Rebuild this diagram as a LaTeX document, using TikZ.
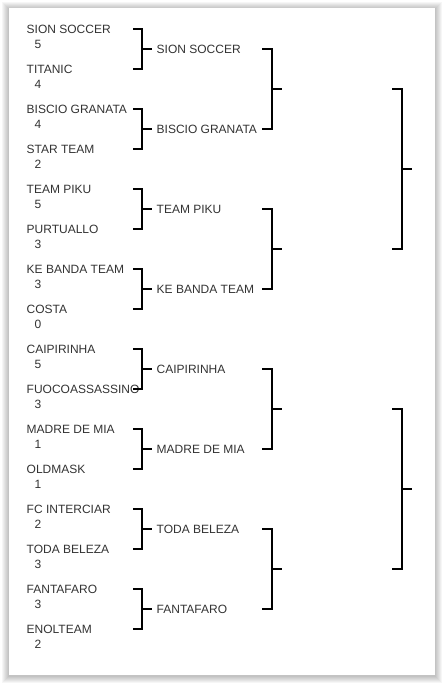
\documentclass[tikz,border=0pt]{standalone}
\usepackage{fontspec}
\setmainfont{Liberation Sans}
\definecolor{txt}{HTML}{333333}
\tikzset{
  team/.style={anchor=base west, inner sep=0pt, font=\fontsize{12}{14}\selectfont, text=txt},
  br/.style={line width=2pt, black},
}
\begin{document}
\begin{tikzpicture}[x=1pt,y=-1pt]
\useasboundingbox (0,0) rectangle (443,683);
\fill[white] (0,0) rectangle (443,683);
% card shadow
\foreach \i in {7,6,5,4,3,2,1}{
  \fill[black,opacity=0.035] (9-\i,8-\i+1) rectangle (435+\i,675+\i+1);
}
\fill[white] (9,8) rectangle (435,675);
% first-round teams and scores
\foreach \n/\s [count=\i from 0] in {SION SOCCER/5, TITANIC/4, BISCIO GRANATA/4, STAR TEAM/2,
  TEAM PIKU/5, PURTUALLO/3, KE BANDA TEAM/3, COSTA/0, CAIPIRINHA/5, FUOCOASSASSINO/3,
  MADRE DE MIA/1, OLDMASK/1, FC INTERCIAR/2, TODA BELEZA/3, FANTAFARO/3, ENOLTEAM/2}{
  \node[team] (t\i) at (26.5, 33.3+40*\i) {\n};
  \node[team] (s\i) at (34.5, 48.3+40*\i) {\s};
}
% second-round labels
\foreach \n [count=\k from 0] in {SION SOCCER, BISCIO GRANATA, TEAM PIKU, KE BANDA TEAM,
  CAIPIRINHA, MADRE DE MIA, TODA BELEZA, FANTAFARO}{
  \node[team] (w\k) at (156.5, 53.3+80*\k) {\n};
}
% round 1 brackets
\foreach \k in {0,...,7}{
  \coordinate (ra\k) at (133, 29+80*\k);
  \coordinate (rb\k) at (133, 69+80*\k);
  \coordinate (rm\k) at (142, 49+80*\k);
  \coordinate (ro\k) at (152, 49+80*\k);
  \draw[br] (ra\k) -| (rm\k) |- (rb\k);
  \draw[br] (rm\k) -- (ro\k);
}
% round 2 brackets
\foreach \j in {0,...,3}{
  \coordinate (qa\j) at (262, 49+160*\j);
  \coordinate (qb\j) at (262, 129+160*\j);
  \coordinate (qm\j) at (272, 89+160*\j);
  \coordinate (qo\j) at (282, 89+160*\j);
  \draw[br] (qa\j) -| (qm\j) |- (qb\j);
  \draw[br] (qm\j) -- (qo\j);
}
% round 3 brackets
\foreach \m in {0,1}{
  \coordinate (pa\m) at (392, 89+320*\m);
  \coordinate (pb\m) at (392, 249+320*\m);
  \coordinate (pm\m) at (402, 169+320*\m);
  \coordinate (po\m) at (412, 169+320*\m);
  \draw[br] (pa\m) -| (pm\m) |- (pb\m);
  \draw[br] (pm\m) -- (po\m);
}
\end{tikzpicture}
\end{document}
